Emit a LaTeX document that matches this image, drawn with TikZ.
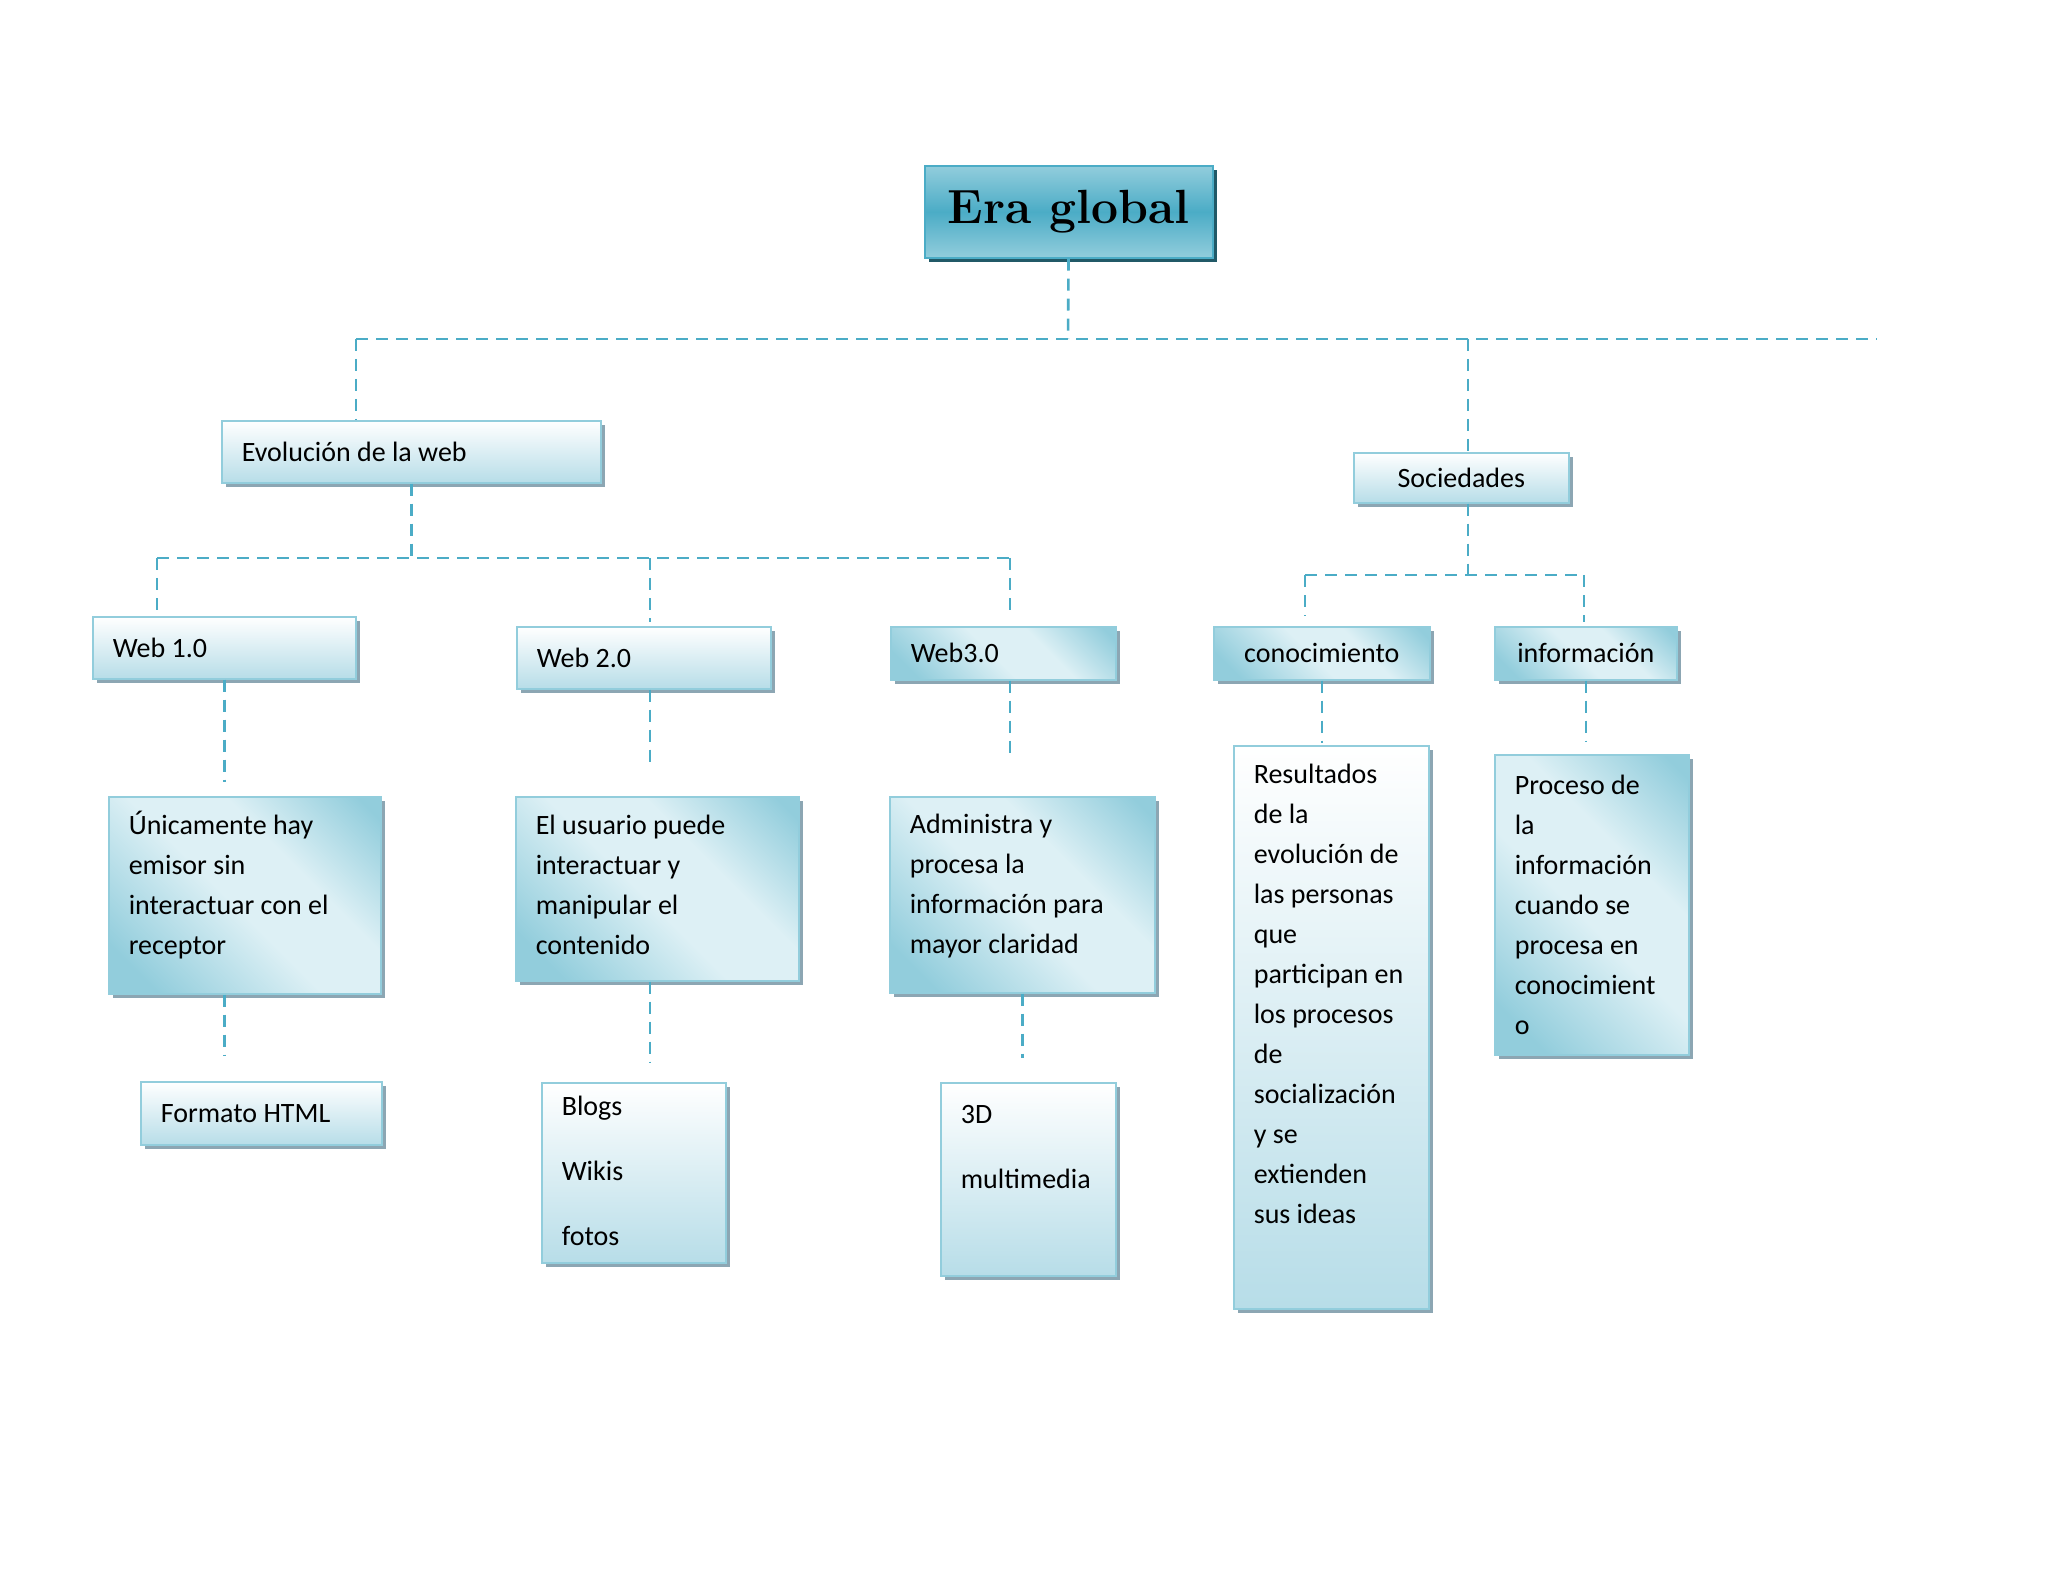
\documentclass[tikz,border=0pt]{standalone}
\usepackage{fontspec}
\newfontfamily\bodyfont{Carlito}
\usetikzlibrary{shadows}
\definecolor{edgeblue}{HTML}{92CDDC}
\definecolor{deepblue}{HTML}{4BACC6}
\definecolor{paleblue}{HTML}{B7DDE8}
\definecolor{mistblue}{HTML}{DDF0F5}
\definecolor{linkblue}{HTML}{4BACC6}
\definecolor{shadowgrey}{HTML}{8CA6B3}
\definecolor{shadowteal}{HTML}{215967}
\pgfdeclarehorizontalshading{glossy}{100bp}{color(0bp)=(edgeblue); color(22bp)=(edgeblue); color(47bp)=(mistblue); color(62bp)=(mistblue); color(82bp)=(edgeblue); color(100bp)=(edgeblue)}

\begin{document}
\begin{tikzpicture}[x=0.5pt,y=-0.5pt,
 card/.style={draw=edgeblue,line width=0.8pt,anchor=north west,inner xsep=10pt,inner ysep=0pt,
   align=flush left,font=\bodyfont\fontsize{14}{20}\selectfont,
   general shadow={fill=shadowgrey,shadow xshift=2pt,shadow yshift=-2pt}},
 plain/.style={top color=white,bottom color=paleblue},
 gloss/.style={shading=glossy,shading angle=45},
 root/.style={draw=deepblue,line width=0.8pt,anchor=north west,inner sep=0pt,
   top color=edgeblue,bottom color=edgeblue,middle color=deepblue,
   font=\rmfamily\bfseries\fontsize{24}{28}\selectfont,
   general shadow={fill=shadowteal,shadow xshift=2pt,shadow yshift=-2pt}},
 link/.style={draw=linkblue,line width=1.3pt,dash pattern=on 6pt off 4pt}]
 \fill[white] (0,0) rectangle (2048,1582);
 % boxes
 \node[root,minimum width=144pt,minimum height=46pt] (title) at (924,165) {Era global};
 \node[card,plain,text width=169.5pt,minimum height=31pt] (evol) at (221,420) {Evolución de la web};
 \node[card,plain,text width=87.5pt,minimum height=25pt,align=flush center] (soc) at (1353,452) {Sociedades};
 \node[card,plain,text width=111.5pt,minimum height=31pt] (web1) at (92,616) {Web 1.0};
 \node[card,plain,text width=107pt,minimum height=31pt] (web2) at (516,626) {Web 2.0};
 \node[card,gloss,text width=92.5pt,minimum height=26.5pt] (web3) at (890,626) {Web3.0};
 \node[card,gloss,text width=88pt,minimum height=26.5pt,align=flush center] (cono) at (1213,626) {conocimiento};
 \node[card,gloss,text width=71pt,minimum height=26.5pt,align=flush center] (info) at (1494,626) {información};
 \node[card,gloss,text width=116pt,minimum height=98.5pt] (unic) at (108,796)
   {Únicamente hay\\emisor sin\\interactuar con el\\receptor\\[-8pt]\mbox{}};
 \node[card,gloss,text width=121.5pt,minimum height=92pt] (usua) at (515,796)
   {El usuario puede\\interactuar y\\manipular el\\contenido\\[-16pt]\mbox{}};
 \node[card,gloss,text width=112.5pt,minimum height=98pt] (admi) at (889,796)
   {Administra y\\procesa la\\información para\\mayor claridad\\[-9pt]\mbox{}};
 \node[card,plain,text width=77.5pt,minimum height=281.5pt] (resu) at (1233,745)
   {Resultados\\de la\\evolución de\\las personas\\que\\participan en\\los procesos\\de\\socialización\\y se\\extienden\\sus ideas\\[14pt]\mbox{}};
 \node[card,gloss,text width=77pt,minimum height=150pt] (proc) at (1494,754)
   {Proceso de\\la\\información\\cuando se\\procesa en\\conocimient\\o};
 \node[card,plain,text width=100.5pt,minimum height=31.5pt] (html) at (140,1081) {Formato HTML};
 \node[card,plain,text width=72pt,minimum height=90pt,font=\bodyfont\fontsize{14}{32.5}\selectfont] (blogs) at (541,1082)
   {Blogs\\Wikis\\fotos\\[-30pt]\mbox{}};
 \node[card,plain,text width=67.5pt,minimum height=96.5pt,font=\bodyfont\fontsize{14}{32.5}\selectfont] (tres) at (940,1082)
   {3D\\multimedia\\\mbox{}};
 % joints of the dashed buses
 \coordinate (rootBus) at (1068,339);
 \coordinate (evolJoint) at (356,339);
 \coordinate (socJoint) at (1468,339);
 \coordinate (busEnd) at (1877,339);
 \coordinate (webLeft) at (157,558);
 \coordinate (webMid) at (650,558);
 \coordinate (webRight) at (1010,558);
 \coordinate (socLeft) at (1305,575);
 \coordinate (socRight) at (1584,575);
 % connectors
 \draw[link] (title) -- (rootBus);
 \draw[link] (evolJoint) -- (busEnd);
 \draw[link] (evolJoint) -- (evolJoint |- evol.north);
 \draw[link] (socJoint) -- (socJoint |- soc.north);
 \draw[link] (evol) -- (evol |- webLeft);
 \draw[link] (webLeft) -- (webRight);
 \draw[link] (webLeft) -- (webLeft |- web1.north);
 \draw[link,shorten >=2pt] (webMid) -- (webMid |- web2.north);
 \draw[link,shorten >=5pt] (webRight) -- (webRight |- web3.north);
 \draw[link] (socJoint |- soc.south) -- (socJoint |- socLeft);
 \draw[link] (socLeft) -- (socRight);
 \draw[link,shorten >=5pt] (socLeft) -- (socLeft |- cono.north);
 \draw[link,shorten >=2pt] (socRight) -- (socRight |- info.north);
 \draw[link,shorten >=7pt] (web1) -- (web1 |- unic.north);
 \draw[link,shorten >=13pt] (web1 |- unic.south) -- (web1 |- html.north);
 \draw[link,shorten >=17pt] (webMid |- web2.south) -- (webMid |- usua.north);
 \draw[link,shorten >=10pt] (webMid |- usua.south) -- (webMid |- blogs.north);
 \draw[link,shorten >=21pt] (webRight |- web3.south) -- (webRight |- admi.north);
 \draw[link,shorten >=12pt] (admi) -- (admi |- tres.north);
 \draw[link,shorten >=1pt] (cono) -- (cono |- resu.north);
 \draw[link,shorten >=6pt] (info) -- (info |- proc.north);
\end{tikzpicture}
\end{document}
